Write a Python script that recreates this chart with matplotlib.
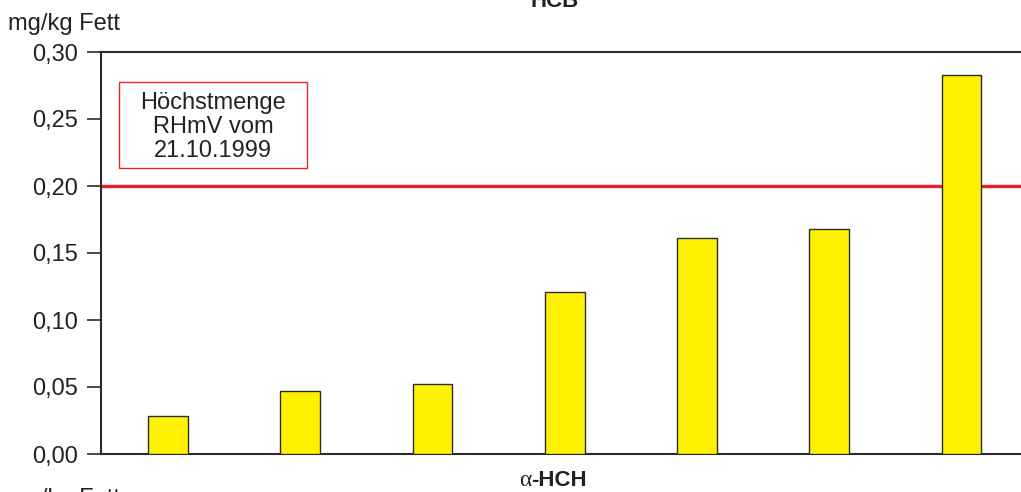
import numpy as np
import matplotlib.pyplot as plt
from matplotlib.patches import Rectangle

# HCB values (mg/kg Fett)
samples = [1, 2, 3, 4, 5, 6, 7]
hcb_values = [0.028, 0.047, 0.052, 0.121, 0.161, 0.168, 0.283]
limit_value = 0.20
y_ticks = [0.00, 0.05, 0.10, 0.15, 0.20, 0.25, 0.30]
y_tick_labels = ['0,00', '0,05', '0,10', '0,15', '0,20', '0,25', '0,30']

YELLOW = '#fff200'
RED = '#e8232a'
DARK = '#2b2b2b'

plt.rcParams['font.family'] = ['Liberation Sans', 'DejaVu Sans']

fig = plt.figure(figsize=(10.21, 4.92), dpi=100)
ax = fig.add_axes([101 / 1021, 38 / 492, 1 - 101 / 1021, 402 / 492])

x = np.arange(len(samples))
ax.bar(x, hcb_values, width=0.30, color=YELLOW, edgecolor=DARK, linewidth=1.0, zorder=3)
ax.axhline(limit_value, color=RED, linewidth=2.4, zorder=2)

ax.set_xlim(-0.506, 6.45)
ax.set_ylim(0, 0.30)
ax.set_yticks(y_ticks)
ax.set_yticklabels(y_tick_labels)
ax.set_xticks([])
ax.tick_params(axis='y', direction='out', length=10, width=1.2, color=DARK,
               labelsize=17, pad=6.5, labelcolor='#222222')

for side in ['left', 'bottom', 'top']:
    ax.spines[side].set_color(DARK)
    ax.spines[side].set_linewidth(1.5)
ax.spines['right'].set_visible(False)

# unit labels and titles (the chart is a crop of a taller page)
fig.text(8 / 1021, 1 - 30 / 492, 'mg/kg Fett', fontsize=17, color='#222222',
         ha='left', va='baseline')
fig.text(555 / 1021, 1 - 7 / 492, 'HCB', fontsize=16, fontweight='bold',
         color='#222222', ha='center', va='baseline')
fig.text(531 / 1021, 1 - 486 / 492, 'α', fontsize=17, family='Liberation Serif',
         color='#222222', ha='right', va='baseline')
fig.text(531 / 1021, 1 - 486 / 492, '-HCH', fontsize=16, fontweight='bold',
         color='#222222', ha='left', va='baseline')
fig.text(8 / 1021, 1 - 505 / 492, 'mg/kg Fett', fontsize=17, color='#222222',
         ha='left', va='baseline')

# legend box for the limit value
fig.add_artist(Rectangle((119 / 1021, 1 - 168 / 492), 188 / 1021, 86 / 492,
                         transform=fig.transFigure, fill=False,
                         edgecolor=RED, linewidth=1.0))
fig.text(213 / 1021, 1 - 157 / 492, 'Höchstmenge\nRHmV vom\n21.10.1999',
         fontsize=17, color='#222222', ha='center', va='baseline',
         linespacing=1.12)

fig.savefig('out.png', dpi=100)
